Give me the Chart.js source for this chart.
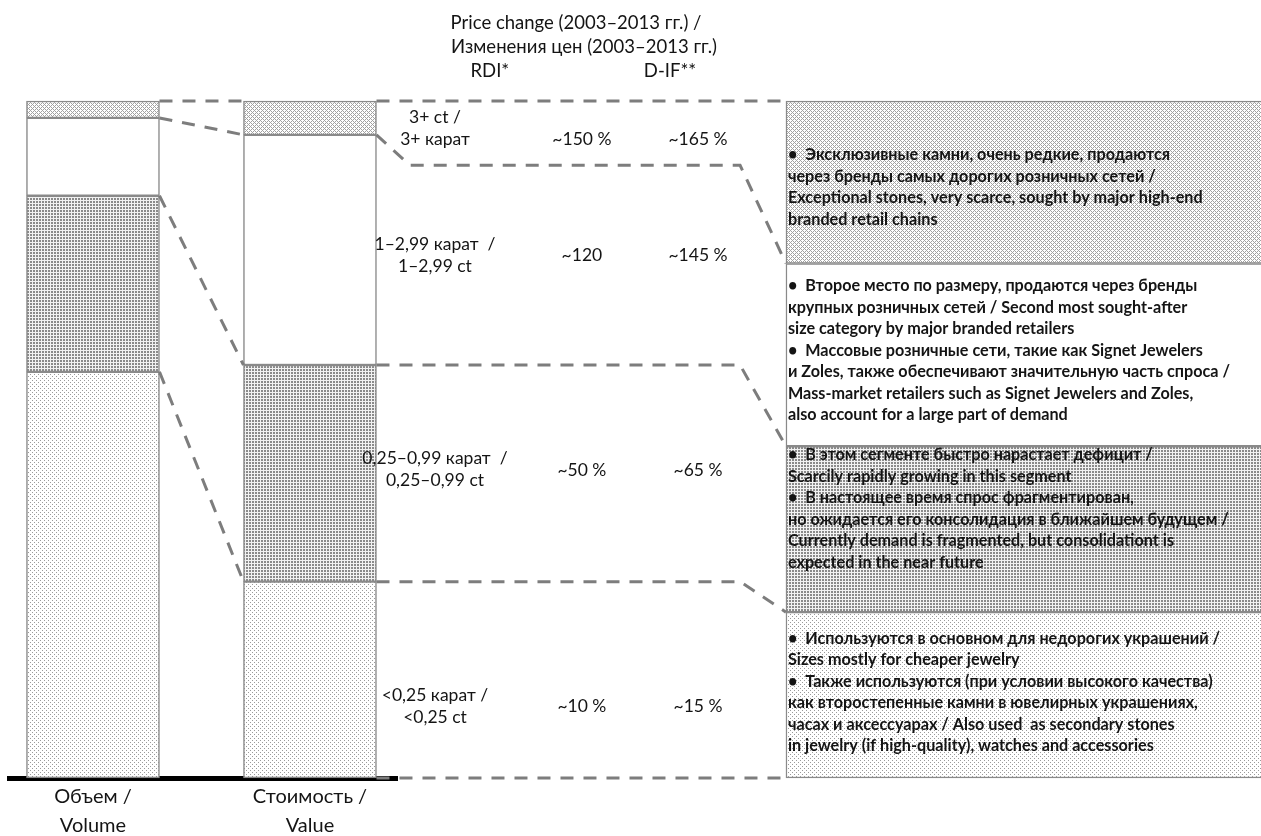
<!DOCTYPE html>
<html>
<head>
<meta charset="utf-8">
<script src="https://cdn.jsdelivr.net/npm/chart.js@4.4.1/dist/chart.umd.min.js"></script>
<style>
  html, body { margin: 0; padding: 0; background: #ffffff; }
  #wrap { width: 1261px; height: 836px; position: relative; }
</style>
</head>
<body>
<div id="wrap"><canvas id="chart" width="1261" height="836"></canvas></div>
<script>
// Diamond size classes, bottom to top
const sizeClasses = ['<0,25 ct', '0,25–0,99 ct', '1–2,99 ct', '3+ ct'];
const sizeLabels = [
  ['<0,25 карат /', '<0,25 ct'],
  ['0,25–0,99 карат  /', '0,25–0,99 ct'],
  ['1–2,99 карат  /', '1–2,99 ct'],
  ['3+ ct /', '3+ карат']
];
const axisLabels = [['Объем /', 'Volume'], ['Стоимость /', 'Value']];

// Share of the rough diamond market, % (bottom to top)
const volumeShare = [60, 26, 11.5, 2.5];
const valueShare = [29, 32, 34, 5];

// Price change 2003–2013
const rdiChange = ['~10 %', '~50 %', '~120', '~150 %'];
const difChange = ['~15 %', '~65 %', '~145 %', '~165 %'];
const headerLines = ['Price change (2003–2013 гг.) /', 'Изменения цен (2003–2013 гг.)'];
const indexNames = ['RDI*', 'D-IF**'];

// Height of each description panel, % of the column
const descBoxShare = [24.5, 24.5, 27, 24];
const descText = [
  [
    '•  Используются в основном для недорогих украшений /',
    'Sizes mostly for cheaper jewelry',
    '•  Также используются (при условии высокого качества)',
    'как второстепенные камни в ювелирных украшениях,',
    'часах и аксессуарах / Also used  as secondary stones',
    'in jewelry (if high-quality), watches and accessories'
  ],
  [
    '•  В этом сегменте быстро нарастает дефицит /',
    'Scarcily rapidly growing in this segment',
    '•  В настоящее время спрос фрагментирован,',
    'но ожидается его консолидация в ближайшем будущем /',
    'Currently demand is fragmented, but consolidationt is',
    'expected in the near future'
  ],
  [
    '•  Второе место по размеру, продаются через бренды',
    'крупных розничных сетей / Second most sought-after',
    'size category by major branded retailers',
    '•  Массовые розничные сети, такие как Signet Jewelers',
    'и Zoles, также обеспечивают значительную часть спроса /',
    'Mass-market retailers such as Signet Jewelers and Zoles,',
    'also account for a large part of demand'
  ],
  [
    '•  Эксклюзивные камни, очень редкие, продаются',
    'через бренды самых дорогих розничных сетей /',
    'Exceptional stones, very scarce, sought by major high-end',
    'branded retail chains'
  ]
];

// ---- layout (x in column units, volume bar = 0, value bar = 1) ----
const COL = {
  label: 1.576, rdi: 2.253, dif: 2.788,
  rdiHead: 1.829, difHead: 2.659, head1: 2.226, head2: 2.263,
  kneeIn: 1.461, kneeOut: 2.982, desc: 4.668
};
const TOP_ROW_FLOOR = 90.5;                 // lower edge of the 3+ table row
const labelShift = [27, -4, -10, -5];       // px from row centre
const valueShift = [27, -3, -10, 6];
const descShift = [-3, -20.5, -4.5, 5];
const FONT = 'Lato, "Open Sans", sans-serif';
const INK = '#141414';
const EDGE = '#8a8a8a';
const DASH = '#7d7d7d';

// ---- fills ----
function tile(size, bg, col, cells) {
  const c = document.createElement('canvas');
  c.width = c.height = size;
  const g = c.getContext('2d');
  g.fillStyle = bg; g.fillRect(0, 0, size, size);
  g.fillStyle = col;
  cells.forEach(([cx, cy, w, h]) => g.fillRect(cx, cy, w || 1, h || 1));
  return g.createPattern(c, 'repeat');
}
const fills = [
  tile(4, '#ffffff', '#9a9a9a', [[0, 0], [2, 2]]),                       // sparse dots
  tile(3, '#f2f2f2', '#8a8a8a', [[0, 0, 2, 2]]),                         // dense dots
  '#ffffff',                                                             // plain
  tile(4, '#ffffff', '#a2a2a2', [[0, 0], [1, 1], [2, 2], [3, 3], [1, 3], [3, 1]]) // lattice
];

const datasets = [];
sizeClasses.forEach((name, i) => {
  datasets.push({
    label: name,
    data: [{ x: 0, y: volumeShare[i] }, { x: 1, y: valueShare[i] }],
    stack: 'share', backgroundColor: fills[i], borderColor: EDGE,
    borderWidth: 1.5, borderSkipped: false, barThickness: 133, grouped: false, clip: false
  });
});
sizeClasses.forEach((name, i) => {
  datasets.push({
    label: name + ' notes',
    data: [{ x: COL.desc, y: descBoxShare[i] }],
    stack: 'notes', backgroundColor: fills[i], borderColor: EDGE,
    borderWidth: 1.5, borderSkipped: false, barThickness: 640, grouped: false, clip: false
  });
});

function dashed(ctx, pts) {
  ctx.beginPath();
  ctx.moveTo(pts[0][0], pts[0][1]);
  for (let i = 1; i < pts.length; i++) ctx.lineTo(pts[i][0], pts[i][1]);
  ctx.stroke();
}

const overlay = {
  id: 'overlay',
  afterDatasetsDraw(chart) {
    const { ctx, scales: { x, y } } = chart;
    const bar = (d, i) => chart.getDatasetMeta(d).data[i].getProps(['x', 'y', 'base', 'width'], true);
    const vol = [0, 1, 2, 3].map(d => bar(d, 0));
    const val = [0, 1, 2, 3].map(d => bar(d, 1));
    const note = [4, 5, 6, 7].map(d => bar(d, 0));
    const volR = vol[0].x + vol[0].width / 2;
    const valL = val[0].x - val[0].width / 2;
    const valR = val[0].x + val[0].width / 2;
    const noteL = note[0].x - note[0].width / 2;
    const kIn = x.getPixelForValue(COL.kneeIn);
    const kOut = x.getPixelForValue(COL.kneeOut);
    const floorY = y.getPixelForValue(TOP_ROW_FLOOR);

    ctx.save();
    ctx.strokeStyle = DASH; ctx.lineWidth = 3; ctx.setLineDash([13, 10]);
    // volume -> value
    dashed(ctx, [[volR, vol[3].y], [valL, val[3].y]]);
    [3, 2, 1].forEach(k => dashed(ctx, [[volR, vol[k].base], [valL, val[k].base]]));
    // value -> notes
    dashed(ctx, [[valR, val[3].y], [noteL, note[3].y]]);
    dashed(ctx, [[valR, val[3].base], [kIn, floorY], [kOut, floorY], [noteL, note[3].base]]);
    [2, 1].forEach(k => dashed(ctx, [[valR, val[k].base], [kOut, val[k].base], [noteL, note[k].base]]));
    dashed(ctx, [[valR, val[0].base], [noteL, note[0].base]]);
    ctx.restore();

    // table rows
    const bounds = [0, valueShare[0], valueShare[0] + valueShare[1], TOP_ROW_FLOOR, 100];
    ctx.save();
    ctx.fillStyle = INK; ctx.textAlign = 'center'; ctx.textBaseline = 'middle';
    ctx.font = '17.5px ' + FONT;
    for (let r = 0; r < 4; r++) {
      const mid = (y.getPixelForValue(bounds[r]) + y.getPixelForValue(bounds[r + 1])) / 2;
      const lx = x.getPixelForValue(COL.label);
      ctx.fillText(sizeLabels[r][0], lx, mid + labelShift[r] - 11);
      ctx.fillText(sizeLabels[r][1], lx, mid + labelShift[r] + 11);
      ctx.fillText(rdiChange[r], x.getPixelForValue(COL.rdi), mid + valueShift[r]);
      ctx.fillText(difChange[r], x.getPixelForValue(COL.dif), mid + valueShift[r]);
    }
    // header
    ctx.font = '18.5px ' + FONT;
    const top = chart.chartArea.top;
    ctx.fillText(headerLines[0], x.getPixelForValue(COL.head1), top - 78);
    ctx.fillText(headerLines[1], x.getPixelForValue(COL.head2), top - 54);
    ctx.fillText(indexNames[0], x.getPixelForValue(COL.rdiHead), top - 30);
    ctx.fillText(indexNames[1], x.getPixelForValue(COL.difHead), top - 30);

    // description panels
    ctx.textAlign = 'left';
    ctx.font = 'bold 16.2px ' + FONT;
    const lh = 21.5;
    for (let r = 0; r < 4; r++) {
      const c = (note[r].y + note[r].base) / 2 + descShift[r];
      const lines = descText[r];
      const start = c - (lines.length - 1) * lh / 2;
      lines.forEach((t, j) => ctx.fillText(t, noteL + 2, start + j * lh));
    }
    ctx.restore();
  }
};

new Chart(document.getElementById('chart'), {
  type: 'bar',
  data: { datasets },
  options: {
    responsive: false,
    animation: false,
    events: [],
    layout: { padding: { left: 9, right: 864, top: 101, bottom: 0 } },
    plugins: { legend: { display: false }, tooltip: { enabled: false } },
    scales: {
      x: {
        type: 'linear', min: -0.387, max: 1.401, z: 1, offset: false,
        afterBuildTicks: s => { s.ticks = [{ value: 0 }, { value: 1 }]; },
        afterFit: s => { s.height = 58; },
        grid: { display: false, drawTicks: false, offset: false },
        border: { display: true, color: '#000000', width: 5 },
        ticks: {
          autoSkip: false, maxRotation: 0, padding: 4, color: INK,
          font: { family: FONT, size: 20, lineHeight: 1.45 },
          callback: v => axisLabels[v]
        }
      },
      y: { display: false, stacked: true, min: 0, max: 100 }
    }
  },
  plugins: [overlay]
});
</script>
</body>
</html>
